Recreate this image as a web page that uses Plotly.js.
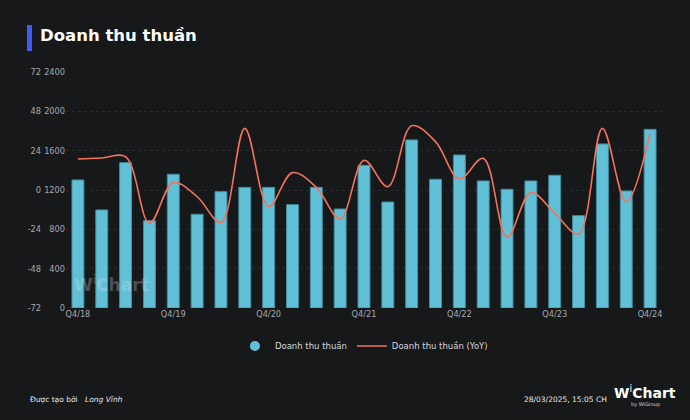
<!DOCTYPE html>
<html><head><meta charset="utf-8">
<script src="https://cdn.plot.ly/plotly-3.0.1.min.js"></script>
<style>html,body{margin:0;padding:0;background:#17181a;}#chart{width:690px;height:420px;}</style>
</head><body><div id="chart"></div>
<script>
const categories = ["Q4/18","Q1/19","Q2/19","Q3/19","Q4/19","Q1/20","Q2/20","Q3/20","Q4/20","Q1/21","Q2/21","Q3/21","Q4/21","Q1/22","Q2/22","Q3/22","Q4/22","Q1/23","Q2/23","Q3/23","Q4/23","Q1/24","Q2/24","Q3/24","Q4/24"];
const revenue = [1302,997,1478,888,1360,953,1183,1227,1227,1051,1227,1007,1451,1078,1709,1309,1556,1292,1207,1292,1350,939,1668,1190,1817];
const yoy = [18.9,19.5,20.3,-20.3,4.5,-4.1,-19.9,37.6,-10.2,10.6,1.6,-17.7,18.1,2.0,39.2,29.5,6.7,19.3,-28.9,-1.6,-14.2,-26.8,37.6,-7.3,34.6];
const tickLabels = ["Q4/18","Q4/19","Q4/20","Q4/21","Q4/22","Q4/23","Q4/24"];
const revTicks = [0,400,800,1200,1600,2000,2400];
const yoyTicks = [-72,-48,-24,0,24,48,72];

const PL = 41, L = 66, R = 662, T = 72, B = 308;
const px = v => (v - PL) / (R - PL);
const py = v => (B - v) / (B - T);

const traces = [
  {type:'bar', x:categories, y:revenue, name:'Doanh thu thuần', showlegend:false,
   marker:{color:'#62c0d6', line:{color:'#3f8fa3', width:1}}, width:0.5},
  {type:'scatter', mode:'markers', x:[null], y:[null], name:'Doanh thu thuần',
   marker:{color:'#62c0d6', size:10, symbol:'circle'}},
  {type:'scatter', mode:'lines', x:categories, y:yoy, yaxis:'y2', name:'Doanh thu thuần (YoY)',
   line:{color:'#f2725a', width:1.6, shape:'spline', smoothing:1}}
];

const tickFont = {family:'DejaVu Sans, sans-serif', size:8.2, color:'#a6a9ae'};

const layout = {
  width:690, height:420,
  paper_bgcolor:'#17181a', plot_bgcolor:'#17181a',
  margin:{l:PL, r:690-R, t:T, b:420-B},
  title:{text:'<b>Doanh thu thuần</b>', x:40/690, xanchor:'left', xref:'container',
         y:1-35/420, yanchor:'middle', yref:'container',
         font:{family:'DejaVu Sans, sans-serif', size:16.5, color:'#ffffff'}},
  showlegend:true,
  legend:{orientation:'h', x:0.52, xanchor:'center', y:py(346), yanchor:'middle',
          font:{family:'DejaVu Sans, sans-serif', size:8.5, color:'#d6d8db'}, bgcolor:'rgba(0,0,0,0)'},
  xaxis:{type:'category', domain:[px(L),1], range:[-0.5,24.5], tickmode:'array', tickvals:tickLabels, ticktext:tickLabels,
         showgrid:false, zeroline:false, showline:false, ticks:'', tickfont:tickFont},
  yaxis:{range:[0,2400], tickvals:revTicks, ticktext:revTicks.map(String), showgrid:true,
         gridcolor:'#2a2c30', griddash:'dot', gridwidth:1, zeroline:false, showline:false,
         tickfont:tickFont},
  yaxis2:{range:[-72,72], tickvals:yoyTicks, ticktext:yoyTicks.map(String), overlaying:'y', side:'left',
          anchor:'free', position:0,
          showgrid:false, zeroline:false, showline:false, tickfont:tickFont},
  shapes:[
    {type:'rect', xref:'paper', yref:'paper', x0:px(27), x1:px(32), y0:py(51), y1:py(25),
     fillcolor:'#3d5bf5', line:{width:0}}
  ],
  annotations:[
    {text:'<b>W</b><sup>i</sup><b>Chart</b>', xref:'paper', yref:'paper', x:px(72), y:py(284), xanchor:'left', yanchor:'middle',
     showarrow:false, font:{family:'DejaVu Sans, sans-serif', size:17, color:'rgba(220,225,230,0.28)'}},
    {text:'Được tạo bởi', xref:'paper', yref:'paper', x:px(28), y:py(399), xanchor:'left', yanchor:'middle',
     showarrow:false, font:{family:'DejaVu Sans, sans-serif', size:7.5, color:'#e6e7e9'}},
    {text:'<i>Long Vĩnh</i>', xref:'paper', yref:'paper', x:px(83), y:py(399), xanchor:'left', yanchor:'middle',
     showarrow:false, font:{family:'DejaVu Sans, sans-serif', size:7.5, color:'#e6e7e9'}},
    {text:'28/03/2025, 15:05 CH', xref:'paper', yref:'paper', x:px(609), y:py(399), xanchor:'right', yanchor:'middle',
     showarrow:false, font:{family:'DejaVu Sans, sans-serif', size:7.5, color:'#e6e7e9'}},
    {text:'<b>W</b><sup>i</sup><b>Chart</b>', xref:'paper', yref:'paper', x:px(612), y:py(392), xanchor:'left', yanchor:'middle',
     showarrow:false, font:{family:'DejaVu Sans, sans-serif', size:14, color:'#ffffff'}},
    {text:'by WiGroup', xref:'paper', yref:'paper', x:px(662), y:py(404), xanchor:'right', yanchor:'middle',
     showarrow:false, font:{family:'DejaVu Sans, sans-serif', size:5, color:'#cfd1d4'}}
  ]
};

Plotly.newPlot('chart', traces, layout, {displayModeBar:false, staticPlot:true});
</script></body></html>
